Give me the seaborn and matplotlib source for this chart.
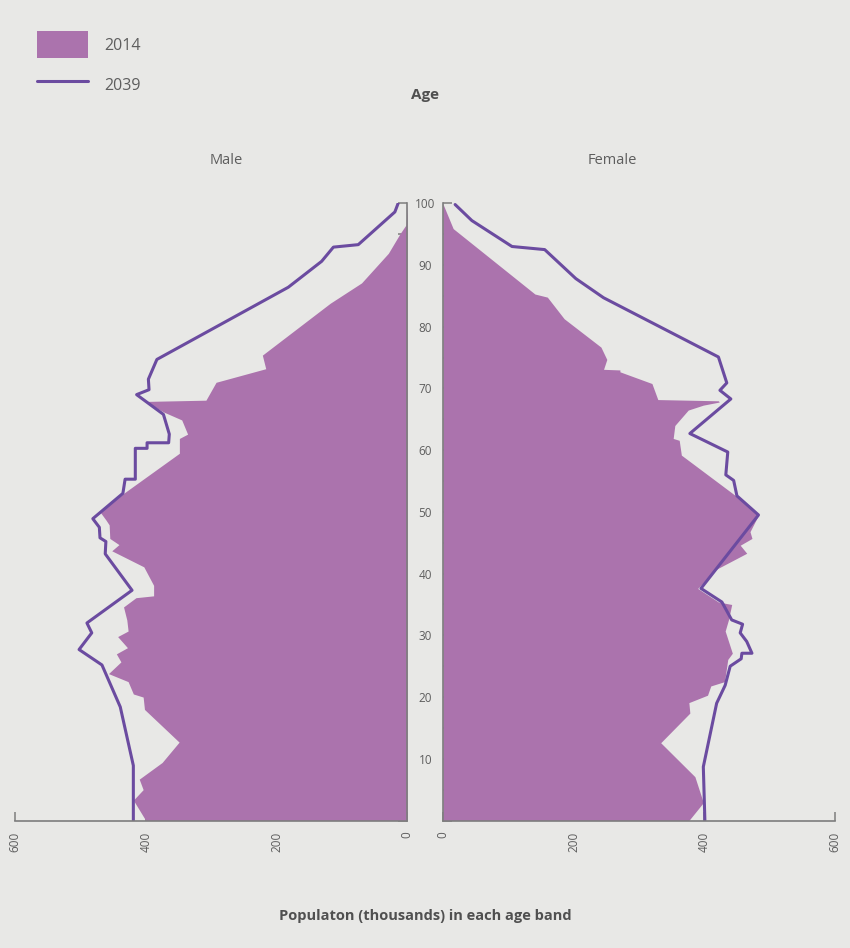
import numpy as np
import matplotlib
matplotlib.use("Agg")
import matplotlib.pyplot as plt
import seaborn as sns
from matplotlib.patches import Patch
from matplotlib.lines import Line2D

# 2014 population (thousands) by age
male_2014_age = [0, 3.3, 5, 6.7, 9.4, 12.7, 18, 20, 20.5, 22.5,
                 23.8, 25.7, 27, 28, 29.8, 30.7, 32.5, 34.6, 36.1, 36.4,
                 38.1, 41.1, 43.7, 44.7, 45.7, 47.9, 48.7, 50, 53, 59.5,
                 61.9, 62.6, 64.9, 66.2, 67.9, 68.1, 71, 73.2, 75.4, 83.8,
                 87.1, 91.9, 95.1, 96.5, 100]
male_2014_val = [400, 419, 404, 410, 375, 349, 402, 404, 419, 427,
                 457, 438, 445, 428, 443, 427, 429, 434, 415, 388,
                 388, 403, 452, 441, 455, 456, 461, 470, 434, 348.6,
                 348.6, 336, 345, 373, 400, 308, 292.5, 216.5, 221.7, 118,
                 70, 29, 11, 2, 0]

female_2014_age = [0, 2.9, 7.1, 12.6, 17.4, 19.1, 20.3, 21.8, 22.5, 26.1,
                   27.1, 30.7, 32.5, 35, 35.4, 37.6, 40.6, 43.3, 44.6, 45.7,
                   46.8, 49.5, 52.7, 59.2, 61.6, 61.9, 64, 66.5, 67.3, 67.8,
                   68.0, 68.2, 70.8, 72.7, 73, 73.1, 74.7, 76.7, 81.3, 84.8,
                   85.3, 95.9, 100]
female_2014_val = [376.5, 398.6, 385.7, 333.4, 378, 376.5, 405, 410, 431, 436,
                   443, 432, 437, 442, 421.7, 390, 416.5, 465, 455, 473,
                   470, 483, 447, 365, 361.7, 352.5, 355, 375.5, 398.6, 423,
                   421.7, 329, 320, 271, 271, 246, 251, 242, 185.7, 160,
                   141, 16, 0]

# 2039 projection
male_2039_age = [0, 8.9, 18.4, 25.2, 27.7, 30.4, 32, 37.3, 43.2, 45.2,
                 45.8, 47.5, 48.9, 53, 55.3, 55.3, 60.3, 60.3, 61.2, 61.2,
                 62.6, 65.8, 69, 69.8, 71.5, 74.7, 86.4, 90.6, 92.9, 93.3,
                 98.6, 100]
male_2039_val = [419, 419, 439, 467, 502, 482.6, 490, 421, 462, 461,
                 470, 471, 481, 435, 431.6, 416, 416, 398, 398, 365,
                 364, 373, 414, 395, 396, 383, 182, 131, 113, 75,
                 19, 14]

female_2039_age = [0, 8.7, 19, 21.9, 25, 26.2, 27.1, 27.1, 29, 30.4,
                   31.8, 32.5, 35.4, 37.6, 49.5, 52.6, 55.1, 56, 59.7, 62.7,
                   68.3, 69.7, 70.9, 75.1, 84.7, 87.8, 92.5, 93, 97.2, 99.8]
female_2039_val = [401, 398.6, 419, 432, 439.7, 456.5, 457.6, 473, 465, 455,
                   458.7, 442, 427, 395, 483, 450, 445, 433, 436, 378,
                   440.7, 424, 434.5, 421.7, 246, 203.6, 156, 106, 44.6, 19]

x_ticks = [0, 200, 400, 600]
age_ticks = list(range(0, 101, 5))
age_labels = [str(a) if a % 10 == 0 and a > 0 else "" for a in age_ticks]

BG = "#e8e8e6"
FILL = "#ab73ad"
LINE = "#6b4ba0"
AXC = "#7d7d7d"
TXT = "#5e5e5e"

sns.set_theme(style="white")
plt.rcParams["font.family"] = ["Open Sans", "DejaVu Sans"]
plt.rcParams["axes.facecolor"] = BG
plt.rcParams["figure.facecolor"] = BG

fig = plt.figure(figsize=(8.5, 9.48), dpi=100)
ax_m = fig.add_axes([15 / 850, 1 - 820.5 / 948, 392.3 / 850, 617.2 / 948])
ax_f = fig.add_axes([442.7 / 850, 1 - 820.5 / 948, 392.3 / 850, 617.2 / 948])

# male side
ax_m.fill_betweenx(male_2014_age, 0, male_2014_val, color=FILL, lw=0)
sns.lineplot(x=male_2039_val, y=male_2039_age, sort=False, estimator=None,
             color=LINE, lw=2.2, ax=ax_m)
ax_m.set_xlim(600, 0)
ax_m.set_ylim(0, 100)

# female side
ax_f.fill_betweenx(female_2014_age, 0, female_2014_val, color=FILL, lw=0)
sns.lineplot(x=female_2039_val, y=female_2039_age, sort=False, estimator=None,
             color=LINE, lw=2.2, ax=ax_f)
ax_f.set_xlim(0, 600)
ax_f.set_ylim(0, 100)

for ax in (ax_m, ax_f):
    ax.set_facecolor(BG)
    for s in ax.spines.values():
        s.set_visible(False)
    ax.spines["bottom"].set_visible(True)
    ax.spines["bottom"].set_color(AXC)
    ax.spines["bottom"].set_linewidth(1.2)
    ax.set_xticks(x_ticks)
    ax.set_xticklabels([str(t) for t in x_ticks], rotation=90)
    ax.tick_params(axis="x", direction="in", length=6.5, width=1.1,
                   color=AXC, labelcolor=TXT, labelsize=8.5, pad=8, bottom=True)
    ax.set_yticks(age_ticks)
    ax.set_xlabel("")
    ax.set_ylabel("")
    ax.grid(False)

ax_m.spines["right"].set_visible(True)
ax_m.spines["right"].set_color(AXC)
ax_m.spines["right"].set_linewidth(1.2)
ax_m.yaxis.tick_right()
ax_m.set_yticklabels(age_labels)
ax_m.tick_params(axis="y", direction="in", length=6.5, width=1.1, color=AXC,
                 labelcolor=TXT, labelsize=8.5, pad=13, left=False, right=True)
for lab in ax_m.get_yticklabels():
    lab.set_horizontalalignment("center")

ax_f.spines["left"].set_visible(True)
ax_f.spines["left"].set_color(AXC)
ax_f.spines["left"].set_linewidth(1.2)
ax_f.set_yticklabels([])
ax_f.tick_params(axis="y", direction="in", length=6.5, width=1.1, color=AXC,
                 left=True, right=False)

# titles
fig.text(226 / 850, 1 - 161 / 948, "Male", ha="center", va="center",
         fontsize=10.5, color=TXT)
fig.text(612 / 850, 1 - 161 / 948, "Female", ha="center", va="center",
         fontsize=10.5, color=TXT)
fig.text(425 / 850, 1 - 95 / 948, "Age", ha="center", va="center",
         fontsize=11, fontweight="bold", color="#505050")
fig.text(425 / 850, 1 - 916 / 948, "Populaton (thousands) in each age band",
         ha="center", va="center", fontsize=10.5, fontweight="bold", color="#505050")

# legend
handles = [Patch(facecolor=FILL, edgecolor="none"),
           Line2D([0], [0], color=LINE, lw=2.2)]
fig.legend(handles, ["2014", "2039"], loc="upper left",
           bbox_to_anchor=(37 / 850, 1 - 31 / 948), frameon=False,
           borderpad=0, borderaxespad=0, handlelength=3.2, handleheight=2.25,
           handletextpad=1.0, labelspacing=0.85, fontsize=11.5, labelcolor=TXT)

fig.savefig("out.png", dpi=100, facecolor=BG)
